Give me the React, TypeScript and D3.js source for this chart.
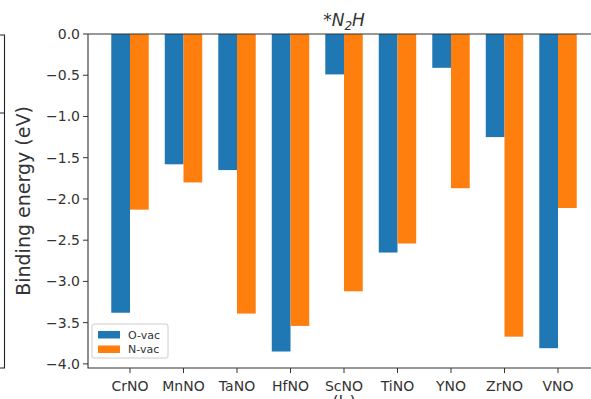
import React from "react";
import * as d3 from "d3";

const categories = ["CrNO", "MnNO", "TaNO", "HfNO", "ScNO", "TiNO", "YNO", "ZrNO", "VNO"];
const oVac = [-3.38, -1.58, -1.65, -3.85, -0.49, -2.65, -0.41, -1.25, -3.81];
const nVac = [-2.13, -1.8, -3.39, -3.54, -3.12, -2.54, -1.87, -3.67, -2.11];
const yTicks = [0, -0.5, -1, -1.5, -2, -2.5, -3, -3.5, -4];

const W = 591;
const H = 399;
const left = 88;
const right = 600; // right spine falls outside the crop
const top = 34;
const bottom = 368;
const barW = 0.35;
const txt = "#333";

export default function App() {
  const x = d3.scaleLinear().domain([-0.785, 8.785]).range([left, right]);
  const y = d3.scaleLinear().domain([0, -4.05]).range([top, bottom]);
  const fmt = (v: number) => d3.format(".1f")(v).replace("-", "\u2212");
  const bw = x(barW) - x(0);

  return (
    <svg
      width={W}
      height={H}
      style={{ position: "absolute", left: 0, top: 0, fontFamily: "DejaVu Sans", background: "#fff" }}
    >
      {/* edge of neighbouring panel */}
      <path d={`M0,${top + 1}H4.5V${bottom}H0M0,113H4.5`} fill="none" stroke="#222" strokeWidth={1.1} />

      {categories.map((c, i) => (
        <g key={c}>
          <rect x={x(i - barW / 2) - bw / 2} y={y(0)} width={bw} height={y(oVac[i]) - y(0)} fill="#1f77b4" />
          <rect x={x(i + barW / 2) - bw / 2} y={y(0)} width={bw} height={y(nVac[i]) - y(0)} fill="#ff7f0e" />
        </g>
      ))}

      {/* spines */}
      <path d={`M${left},${top}H${right}M${left},${top}V${bottom}H${right}`} fill="none" stroke="#333" strokeWidth={1.1} />

      {yTicks.map((t) => (
        <g key={t} transform={`translate(0,${y(t)})`}>
          <line x1={left - 5} x2={left} stroke="#333" strokeWidth={1} />
          <text x={left - 8} dy="0.35em" textAnchor="end" fontSize={14} fill={txt}>
            {fmt(t)}
          </text>
        </g>
      ))}

      {categories.map((c, i) => (
        <g key={c} transform={`translate(${x(i)},${bottom})`}>
          <line y2={5} stroke="#333" strokeWidth={1} />
          <text y={23} textAnchor="middle" fontSize={14} fill={txt}>
            {c}
          </text>
        </g>
      ))}

      <text
        transform={`translate(30,${(top + bottom) / 2}) rotate(-90)`}
        textAnchor="middle"
        fontSize={19}
        fill={txt}
      >
        Binding energy (eV)
      </text>
      {/* x label, cut off by the crop as in the reference */}
      <text x={(left + right) / 2} y={409} textAnchor="middle" fontSize={17} fill={txt}>
        (b)
      </text>

      <text x={(left + right) / 2} y={26} textAnchor="middle" fontSize={17} fontStyle="italic" fill={txt}>
        *N<tspan fontSize={12} dy={4}>2</tspan>
        <tspan dy={-4}>H</tspan>
      </text>

      {/* legend */}
      <g transform="translate(92,324)">
        <rect width={76} height={34} rx={2} fill="#fff" fillOpacity={0.8} stroke="#ccc" strokeWidth={1} />
        <rect x={6} y={7} width={22} height={7.5} fill="#1f77b4" />
        <rect x={6} y={21.5} width={22} height={7.5} fill="#ff7f0e" />
        <text x={36} y={14.5} fontSize={11} fill={txt}>O-vac</text>
        <text x={36} y={29} fontSize={11} fill={txt}>N-vac</text>
      </g>
    </svg>
  );
}
